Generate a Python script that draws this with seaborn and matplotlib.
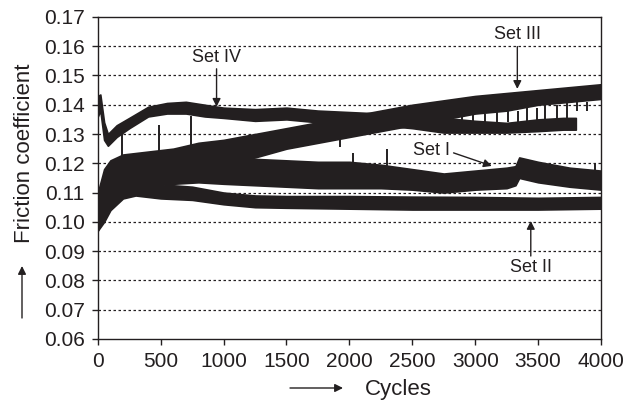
import matplotlib
matplotlib.use("Agg")
import matplotlib.pyplot as plt
import seaborn as sns
import pandas as pd

# bandas: ciclo, borde inferior y superior de cada curva
ciclos_1 = [0, 50, 100, 200, 400, 600, 800, 1000, 1250, 1500, 1750, 2000,
            2250, 2500, 2750, 3000, 3250, 3320, 3350, 3500, 3750, 4000]
inf_1 = [0.097, 0.103, 0.108, 0.112, 0.113, 0.113, 0.1135, 0.113, 0.1125, 0.112,
         0.1115, 0.1115, 0.1115, 0.111, 0.110, 0.111, 0.1115, 0.1125, 0.115,
         0.1135, 0.112, 0.111]
sup_1 = [0.105, 0.112, 0.117, 0.121, 0.122, 0.122, 0.1225, 0.122, 0.1215, 0.121,
         0.1205, 0.1205, 0.1195, 0.118, 0.1165, 0.1175, 0.1185, 0.119, 0.122,
         0.1205, 0.1185, 0.1175]

ciclos_2 = [0, 50, 100, 200, 300, 500, 750, 1000, 1250, 1500, 2000, 2500,
            3000, 3500, 4000]
inf_2 = [0.097, 0.100, 0.104, 0.108, 0.109, 0.108, 0.1075, 0.106, 0.105, 0.1048,
         0.1045, 0.1042, 0.1042, 0.1042, 0.1045]
sup_2 = [0.103, 0.108, 0.111, 0.1135, 0.114, 0.1128, 0.112, 0.110, 0.109, 0.1088,
         0.1088, 0.1086, 0.1085, 0.1082, 0.1085]

ciclos_3 = [0, 50, 100, 200, 400, 600, 800, 1000, 1250, 1500, 1750, 2000,
            2250, 2500, 2750, 3000, 3250, 3500, 3750, 4000]
inf_3 = [0.100, 0.108, 0.113, 0.115, 0.116, 0.117, 0.118, 0.120, 0.122, 0.125,
         0.127, 0.129, 0.131, 0.133, 0.135, 0.137, 0.138, 0.140, 0.141, 0.142]
sup_3 = [0.110, 0.118, 0.121, 0.123, 0.124, 0.125, 0.127, 0.128, 0.130, 0.132,
         0.134, 0.136, 0.138, 0.140, 0.1415, 0.143, 0.144, 0.145, 0.146, 0.147]

ciclos_4 = [0, 20, 50, 80, 150, 250, 400, 550, 700, 850, 1000, 1250, 1500,
            1750, 2000, 2250, 2500, 2750, 3000, 3250, 3500, 3700, 3800]
inf_4 = [0.136, 0.138, 0.128, 0.126, 0.129, 0.132, 0.136, 0.137, 0.137, 0.136,
         0.1355, 0.1345, 0.135, 0.134, 0.1335, 0.133, 0.132, 0.1305, 0.1305,
         0.1305, 0.131, 0.1315, 0.1315]
sup_4 = [0.143, 0.1435, 0.134, 0.130, 0.133, 0.1355, 0.1393, 0.1406, 0.141,
         0.140, 0.139, 0.1385, 0.139, 0.138, 0.1375, 0.137, 0.136, 0.1355,
         0.1345, 0.1338, 0.135, 0.1355, 0.1355]

# picos sueltos: ciclo, desde, hasta
pico_ciclo = [190, 485, 740, 1925, 2030, 2300, 3950,
              2800, 2895, 2980, 3075, 3170, 3260, 3340, 3410, 3490, 3555,
              3650, 3730, 3810, 3890]
pico_desde = [0.122, 0.123, 0.125, 0.129, 0.120, 0.119, 0.116,
              0.137, 0.137, 0.137, 0.137, 0.138, 0.138, 0.138, 0.139, 0.139,
              0.140, 0.140, 0.141, 0.141, 0.141]
pico_hasta = [0.130, 0.133, 0.136, 0.1256, 0.1236, 0.125, 0.120,
              0.134, 0.134, 0.134, 0.134, 0.134, 0.134, 0.134, 0.134, 0.134,
              0.134, 0.134, 0.135, 0.138, 0.138]

series = {
    "Set I": (ciclos_1, inf_1, sup_1),
    "Set II": (ciclos_2, inf_2, sup_2),
    "Set III": (ciclos_3, inf_3, sup_3),
    "Set IV": (ciclos_4, inf_4, sup_4),
}

filas = []
for nombre, (cic, inf, sup) in series.items():
    for c, a, b in zip(cic, inf, sup):
        filas.append({"serie": nombre, "ciclo": c, "mu": a})
        filas.append({"serie": nombre, "ciclo": c, "mu": b})
df = pd.DataFrame(filas)

negro = "#231f20"
sns.set_style("ticks")
plt.rcParams["font.family"] = ["Liberation Sans", "DejaVu Sans"]

fig = plt.figure(figsize=(6.27, 4.03), dpi=100)
ax = fig.add_axes([0.156, 0.159, 0.8025, 0.799])

sns.lineplot(data=df, x="ciclo", y="mu", hue="serie",
             palette=[negro] * 4, errorbar=("pi", 100),
             err_kws={"alpha": 1, "linewidth": 1.2, "edgecolor": negro},
             linewidth=0, legend=False, ax=ax)
ax.vlines(pico_ciclo, pico_desde, pico_hasta, color=negro, linewidth=1.4)

ax.set_xlim(0, 4000)
ax.set_ylim(0.06, 0.17)
ax.set_xticks(range(0, 4001, 500))
ax.set_yticks([0.06 + 0.01 * i for i in range(12)])
ax.set_yticklabels([f"{0.06 + 0.01 * i:.2f}" for i in range(12)])
ax.tick_params(labelsize=15, length=4.5, width=1, pad=5, color=negro,
               labelcolor=negro, top=False, right=False)
for lado in ax.spines.values():
    lado.set_color(negro)
    lado.set_linewidth(1)
for y in [0.07 + 0.01 * i for i in range(10)]:
    ax.axhline(y, color=negro, linestyle=(0, (2, 2)), linewidth=0.9, zorder=0)
ax.set_xlabel("")
ax.set_ylabel("")

flecha = dict(arrowstyle="-|>", color=negro, lw=1, mutation_scale=12,
              shrinkA=0, shrinkB=0)
ax.annotate("Set IV", xy=(944, 0.1393), xytext=(944, 0.1563),
            ha="center", va="center", fontsize=13, color=negro,
            arrowprops=dict(flecha, relpos=(0.5, 0)))
ax.annotate("Set III", xy=(3335, 0.1454), xytext=(3335, 0.1639),
            ha="center", va="center", fontsize=13, color=negro,
            arrowprops=dict(flecha, relpos=(0.5, 0)))
ax.annotate("Set I", xy=(3132, 0.1191), xytext=(2655, 0.1243),
            ha="center", va="center", fontsize=13, color=negro,
            arrowprops=dict(flecha, relpos=(1.05, 0.4)))
ax.annotate("Set II", xy=(3442, 0.1003), xytext=(3442, 0.0843),
            ha="center", va="center", fontsize=13, color=negro,
            arrowprops=dict(flecha, relpos=(0.5, 1)))

fig.text(25 / 627, 1 - 153 / 403, "Friction coefficient", rotation=90,
         ha="center", va="center", fontsize=16, color=negro)
fig.text(398 / 627, 1 - 390 / 403, "Cycles", ha="center", va="center",
         fontsize=16, color=negro)
fig.add_artist(matplotlib.patches.FancyArrowPatch(
    (22 / 627, 1 - 318 / 403), (22 / 627, 1 - 266 / 403),
    transform=fig.transFigure, **flecha))
fig.add_artist(matplotlib.patches.FancyArrowPatch(
    (290 / 627, 1 - 388 / 403), (343 / 627, 1 - 388 / 403),
    transform=fig.transFigure, **flecha))

fig.savefig("out.png", dpi=100)
